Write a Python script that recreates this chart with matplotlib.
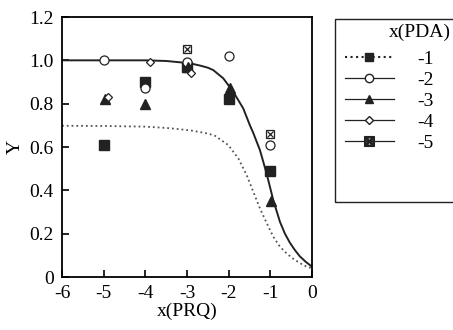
import matplotlib
matplotlib.use("Agg")
import matplotlib.pyplot as plt
from matplotlib.lines import Line2D
from matplotlib.patches import Rectangle

plt.rcParams['font.family'] = ['Liberation Serif', 'DejaVu Serif']
plt.rcParams['axes.unicode_minus'] = False

# measured points, x(PRQ) = -5..-1
x_prq = [-5, -4, -3, -2, -1]
y_m1 = [0.61, 0.90, 0.97, 0.82, 0.49]
y_m2 = [1.00, 0.87, 0.99, 1.02, 0.61]
x_m3 = [-4.97, -4, -2.98, -1.98, -0.98]
y_m3 = [0.82, 0.80, 0.97, 0.87, 0.35]
x_m4 = [-4.9, -3.9, -2.9]
y_m4 = [0.83, 0.99, 0.94]
x_m5 = [-3, -1]
y_m5 = [1.05, 0.66]

# fitted curves
solid_x = [-6, -5, -4, -3.5, -3.17, -2.9, -2.69, -2.5, -2.37, -2.13, -1.89, -1.65, -1.49, -1.41,
           -1.25, -1.09, -0.93, -0.77, -0.65, -0.53, -0.41, -0.29, -0.15, -0.03, 0]
solid_y = [1.0, 1.0, 1.0, 0.997, 0.991, 0.985, 0.976, 0.966, 0.955, 0.917, 0.855, 0.778, 0.70, 0.665,
           0.586, 0.478, 0.355, 0.255, 0.2, 0.158, 0.124, 0.095, 0.07, 0.052, 0.048]
dot_x = [-6, -5, -4, -3.5, -3.17, -2.9, -2.69, -2.5, -2.33, -2.01, -1.77, -1.57, -1.41, -1.25,
         -1.09, -0.93, -0.77, -0.61, -0.45, -0.29, -0.15, -0.03, 0]
dot_y = [0.698, 0.697, 0.694, 0.688, 0.682, 0.676, 0.669, 0.662, 0.652, 0.609, 0.548, 0.471,
         0.394, 0.317, 0.25, 0.186, 0.14, 0.109, 0.084, 0.064, 0.05, 0.042, 0.04]

fig = plt.figure(figsize=(4.53, 3.30), dpi=100)
ax = fig.add_axes([62/453, 53/330, 250/453, 260/330])

ax.plot(solid_x, solid_y, '-', color='#222222', lw=1.4)
ax.plot(dot_x, dot_y, ':', color='#555555', lw=1.3)

ms = 6.5
ax.plot(x_prq, y_m1, 's', color='#222222', ms=ms)
ax.plot(x_prq, y_m2, 'o', mfc='white', mec='#222222', ms=ms, mew=0.9)
ax.plot(x_m3, y_m3, '^', color='#222222', ms=ms)
ax.plot(x_m4, y_m4, 'D', mfc='white', mec='#222222', ms=4.5, mew=0.9)
ax.plot(x_m5, y_m5, marker='s', ls='none', mfc='white', mec='#222222', ms=6, mew=0.9)
ax.plot(x_m5, y_m5, marker='x', ls='none', color='#222222', ms=4.5, mew=0.9)

ax.set_xlim(-6, 0)
ax.set_ylim(0, 1.2)
ax.set_xticks([-6, -5, -4, -3, -2, -1, 0])
ax.set_yticks([0, 0.2, 0.4, 0.6, 0.8, 1.0, 1.2])
ax.set_yticklabels(['0', '0.2', '0.4', '0.6', '0.8', '1.0', '1.2'])
ax.tick_params(direction='in', labelsize=14, length=5, width=1.2, pad=6)
for s in ax.spines.values():
    s.set_linewidth(1.3)
ax.set_xlabel('x(PRQ)', fontsize=14, labelpad=0)
ax.set_ylabel('Y', fontsize=14, labelpad=4)

# legend
handles = [
    Line2D([], [], ls=':', color='#222222', marker='s', ms=6),
    Line2D([], [], ls='-', lw=0.9, color='#222222', marker='o', mfc='white', ms=6),
    Line2D([], [], ls='-', lw=0.9, color='#222222', marker='^', ms=6),
    Line2D([], [], ls='-', lw=0.9, color='#222222', marker='D', mfc='white', ms=4.5),
    Line2D([], [], ls='-', lw=0.9, color='#222222', marker='$\\boxtimes$', ms=7),
]
labels = ['-1', '-2', '-3', '-4', '-5']
fig.legend(handles, labels, loc='upper left', bbox_to_anchor=(345/453, 1 - 50/330),
           fontsize=14, frameon=False, handlelength=2.5, labelspacing=0.18,
           borderpad=0, handletextpad=1.2, borderaxespad=0)
fig.text(389/453, 1 - 32/330, 'x(PDA)', fontsize=14, ha='left', va='center')
fig.patches.append(Rectangle((335/453, 1 - 202/330), 130/453, 183/330,
                             transform=fig.transFigure, fill=False,
                             edgecolor='#222222', lw=1.0))

fig.savefig('out.png', dpi=100)
